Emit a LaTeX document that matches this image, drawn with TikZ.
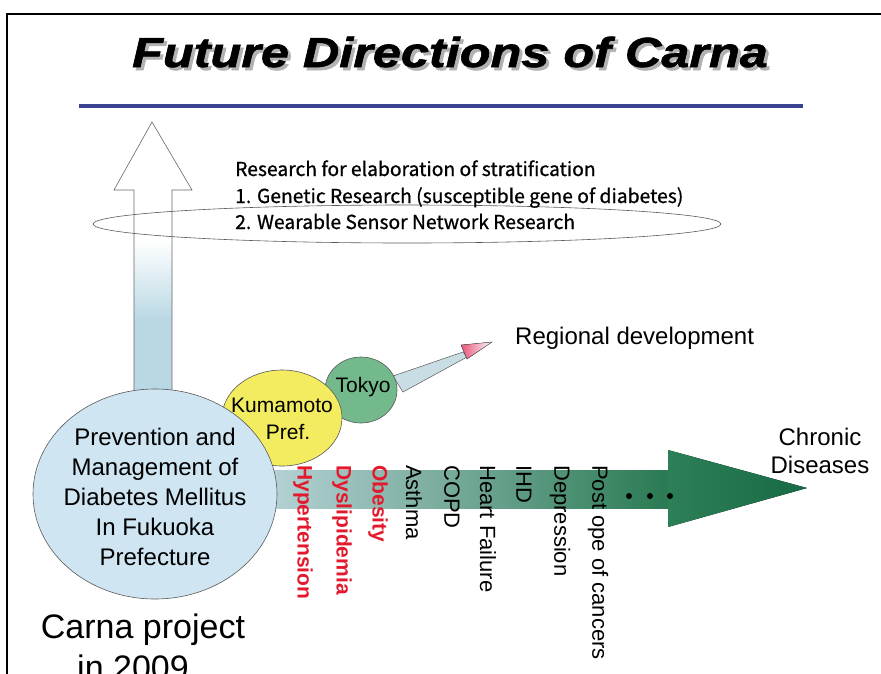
\documentclass[tikz,border=0pt]{standalone}
\usepackage{fontspec}
\setmainfont{Liberation Sans}
\newfontfamily\titlefont[FakeStretch=1.2,FakeBold=1.5]{Liberation Sans}
\newfontfamily\gothic[FakeBold=0.8]{Noto Sans CJK JP}
\usetikzlibrary{shapes.geometric}

\definecolor{navyline}{HTML}{3B4292}
\definecolor{circblue}{HTML}{CFE6F2}
\definecolor{upblue}{HTML}{B9D8E4}
\definecolor{kumayellow}{HTML}{F4EC60}
\definecolor{tokyogreen}{HTML}{74B98B}
\definecolor{shaftL}{HTML}{BCD6DC}
\definecolor{shaftR}{HTML}{2A7A52}
\definecolor{headL}{HTML}{2C7F57}
\definecolor{headR}{HTML}{186A44}
\definecolor{diseasered}{HTML}{E3192D}
\definecolor{regblue}{HTML}{C9DDE5}
\definecolor{regpink}{HTML}{E8557A}

\tikzset{
  fs/.style={font=\fontsize{#1}{#1}\selectfont},
  blob/.style={draw=gray!70!black, line width=0.6pt},
  vlabel/.style={rotate=-90, anchor=west, inner sep=0pt, font=\fontsize{22}{22}\selectfont},
  redlabel/.style={vlabel, text=diseasered, font=\fontsize{21}{21}\selectfont\bfseries},
  research/.style={anchor=base west, inner sep=0pt, font=\gothic\fontsize{19.3}{19.3}\selectfont},
  titletext/.style={anchor=base, inner sep=0pt, font=\titlefont\fontsize{42}{42}\selectfont\bfseries\itshape},
}

\begin{document}
\begin{tikzpicture}[x=1pt, y=-1pt]
\useasboundingbox (0,0) rectangle (881,673);
\clip (0,0) rectangle (881,673);

% outer frame
\draw[line width=1.4pt] (7,14) rectangle (900,700);

% title with drop shadow
\node (title) [titletext] at (450,67)
  {\llap{\makebox[0pt][l]{\raisebox{-3pt}{\hspace{3pt}\textcolor{gray!60}{Future Directions of Carna}}}}Future Directions of Carna};
\draw[navyline, line width=4pt] (79,106) -- (803,106);

% upward hollow arrow
\fill[white] (134,190) rectangle (172,240);
\fill[top color=white, bottom color=upblue] (134,240) rectangle (172,320);
\fill[upblue] (134,320) rectangle (172,420);
\draw[gray!80!black, line width=0.6pt]
  (134,420) -- (134,190) -- (114,190) -- (152,122) -- (192,190) -- (172,190) -- (172,420);

% research ellipse and text
\draw[gray!70!black, line width=0.6pt] (407,224) ellipse [x radius=314pt, y radius=19pt];
\node (r0) [research] at (235,176) {Research for elaboration of stratification};
\node (r1) [research] at (235,203) {1. Genetic Research (susceptible gene of diabetes)};
\node (r2) [research] at (235,229) {2. Wearable Sensor Network Research};

% horizontal arrow towards chronic diseases
\fill[left color=shaftL, right color=shaftR] (250,470) rectangle (669,508);
\fill[left color=headL, right color=headR] (668,450) -- (807,488) -- (668,527) -- cycle;
\foreach \dx in {629,650,670} \fill (\dx,496) circle [radius=3pt];

% regional development arrow
\fill[regblue, draw=gray!70!black, line width=0.5pt]
  (393,376) -- (463,352) -- (467,357) -- (403,392) -- cycle;
\fill[left color=regpink, right color=white!90!regblue, draw=gray!60!black, line width=0.4pt]
  (461,345) -- (492,342) -- (467,359) -- cycle;

% regional circles
\node (tokyo) [ellipse, blob, fill=tokyogreen, minimum width=72pt, minimum height=66pt] at (361,390) {};
\node (kuma) [ellipse, blob, fill=kumayellow, minimum width=120pt, minimum height=96pt] at (282,418) {};
\node (fukuoka) [ellipse, blob, fill=circblue, minimum width=244pt, minimum height=210pt] at (155,494) {};

\node (tokyotext) [fs=21, inner sep=0pt] at (363,387) {Tokyo};
\node (kumatext) [fs=21, inner sep=0pt] at (282,405) {Kumamoto};
\node (preftext) [fs=21, inner sep=0pt] at (288,432) {Pref.};

\node (fukuokatext) [align=center, inner sep=0pt, font=\fontsize{24}{30}\selectfont] at (155,497)
  {Prevention and\\Management of\\Diabetes Mellitus\\In Fukuoka\\Prefecture};

\node (carna) [anchor=base, inner sep=0pt, fs=34] at (143,638) {Carna project};
\node (year) [anchor=base, inner sep=0pt, fs=34] at (133,679) {in 2009};

\node (regional) [anchor=base west, inner sep=0pt, fs=24] at (515,344) {Regional development};
\node (chronic) [align=center, inner sep=0pt, font=\fontsize{24}{28}\selectfont] at (820,451) {Chronic\\Diseases};

% diseases along the arrow
\node (d1) [redlabel] at (303,465) {Hypertension};
\node (d2) [redlabel] at (342,465) {Dyslipidemia};
\node (d3) [redlabel] at (378,465) {Obesity};
\node (d4) [vlabel] at (414,465) {Asthma};
\node (d5) [vlabel] at (452,465) {COPD};
\node (d6) [vlabel] at (488,465) {Heart Failure};
\node (d7) [vlabel] at (524,465) {IHD};
\node (d8) [vlabel] at (560,465) {Depression};
\node (d9) [vlabel] at (598,465) {Post ope of cancers};
\end{tikzpicture}
\end{document}
